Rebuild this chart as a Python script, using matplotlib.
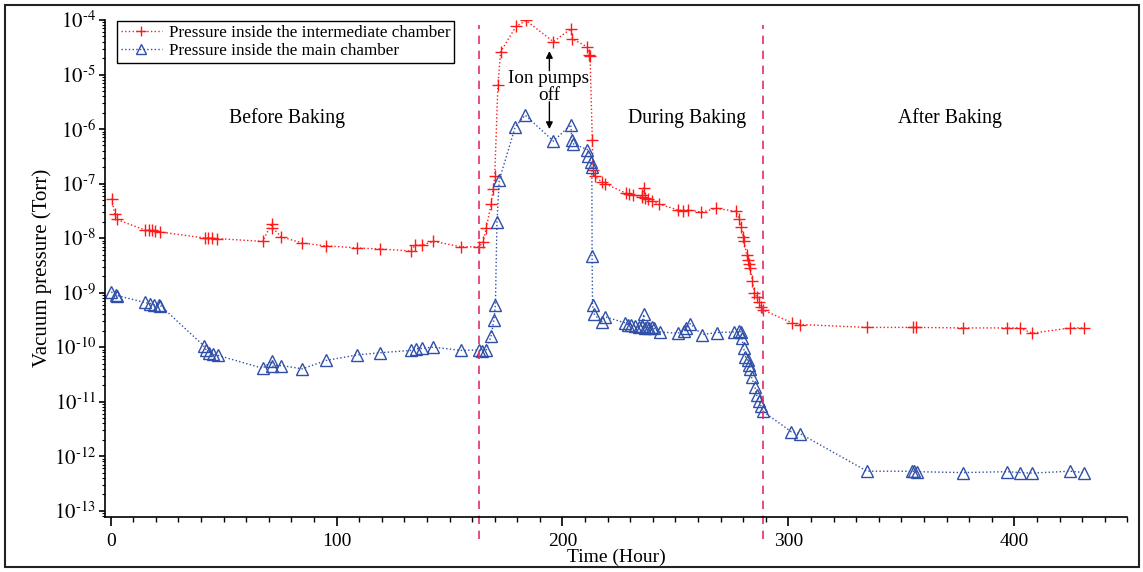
import matplotlib
matplotlib.use("Agg")
import matplotlib.pyplot as plt
from matplotlib.patches import Rectangle
from matplotlib.ticker import MultipleLocator, LogLocator, FixedLocator, NullFormatter
import numpy as np

plt.rcParams['font.family'] = ['Liberation Serif', 'DejaVu Serif']
plt.rcParams['mathtext.fontset'] = 'stix'

# ---------------- data ----------------
red_t = [0.4, 1.8, 2.6, 15.4, 16.9, 18.3, 19.8, 21.7, 41.8, 43.3, 44.8, 47.0,
         67.3, 71.2, 71.6, 75.6, 84.9, 95.4, 109.1, 119.4, 132.9, 134.8, 137.7,
         142.9, 155.2, 163.0, 164.9, 166.2, 168.4, 169.3, 170.0, 171.4, 172.6,
         179.4, 183.8, 196.0, 203.7, 204.4, 211.0, 211.9, 212.2, 213.2, 213.5,
         214.4, 217.3, 218.8, 228.3, 229.6, 231.3, 235.0, 235.4, 236.0, 236.5,
         238.0, 239.6, 242.7, 251.0, 253.5, 255.5, 261.4, 268.0, 276.8, 278.3,
         279.0, 280.0, 280.4, 281.5, 282.2, 282.7, 283.1, 284.1, 284.9, 286.0,
         287.0, 288.0, 288.8, 301.5, 305.1, 334.8, 355.1, 356.5, 377.1, 396.8,
         402.3, 408.0, 424.7, 431.0]
red_p = [5.3e-8, 2.8e-8, 2.2e-8, 1.4e-8, 1.4e-8, 1.4e-8, 1.35e-8, 1.3e-8, 1.0e-8,
         1.0e-8, 1.0e-8, 9.8e-9, 8.7e-9, 1.85e-8, 1.55e-8, 1.05e-8, 8.1e-9, 7.2e-9,
         6.6e-9, 6.3e-9, 5.8e-9, 7.4e-9, 7.4e-9, 8.7e-9, 6.9e-9, 6.9e-9, 8.4e-9,
         1.5e-8, 4.2e-8, 8.0e-8, 1.35e-7, 6.3e-6, 2.6e-5, 7.6e-5, 9.8e-5, 4.0e-5,
         6.9e-5, 4.5e-5, 3.2e-5, 2.3e-5, 2.2e-5, 6.3e-7, 1.8e-7, 1.35e-7, 1.08e-7,
         1.0e-7, 6.6e-8, 6.5e-8, 6.3e-8, 5.6e-8, 6.3e-8, 8.3e-8, 5.4e-8, 5.2e-8,
         4.8e-8, 4.2e-8, 3.3e-8, 3.2e-8, 3.3e-8, 3.0e-8, 3.5e-8, 3.1e-8, 2.2e-8,
         1.6e-8, 1.05e-8, 8.7e-9, 5.0e-9, 4.0e-9, 3.4e-9, 2.8e-9, 1.6e-9, 1.0e-9,
         8.3e-10, 6.8e-10, 5.5e-10, 4.8e-10, 2.8e-10, 2.6e-10, 2.3e-10, 2.3e-10,
         2.3e-10, 2.25e-10, 2.25e-10, 2.25e-10, 1.8e-10, 2.25e-10, 2.25e-10]

blue_t = [0.3, 2.2, 3.0, 15.1, 17.6, 19.1, 21.3, 22.0, 41.1, 42.3, 43.7, 45.5,
          47.3, 67.3, 71.2, 71.6, 75.6, 84.9, 95.4, 109.1, 119.4, 132.9, 135.0,
          137.7, 142.9, 155.2, 163.0, 164.5, 166.2, 168.4, 169.6, 170.3, 171.0,
          172.0, 179.1, 183.5, 196.0, 203.7, 204.1, 204.6, 211.0, 211.5, 212.5,
          213.0, 213.1, 213.3, 214.1, 217.3, 218.8, 227.6, 229.0, 230.5, 232.0,
          234.0, 235.0, 236.0, 236.5, 237.5, 238.5, 239.5, 240.5, 243.0, 251.0,
          253.7, 254.6, 256.6, 261.7, 268.3, 276.0, 278.0, 279.0, 279.3, 280.2,
          281.0, 282.0, 282.7, 283.0, 283.7, 285.2, 286.0, 287.0, 287.8, 288.8,
          301.3, 305.1, 334.8, 354.6, 355.7, 356.8, 377.1, 396.8, 402.3, 408.0,
          424.7, 431.0]
blue_p = [1.03e-9, 9.1e-10, 8.8e-10, 6.6e-10, 6.3e-10, 6.0e-10, 6.0e-10, 5.8e-10,
          1.07e-10, 8.9e-11, 7.7e-11, 7.4e-11, 7.1e-11, 4.1e-11, 5.5e-11, 4.5e-11,
          4.6e-11, 4.0e-11, 5.7e-11, 7.2e-11, 7.9e-11, 8.7e-11, 9.3e-11, 9.5e-11,
          1.0e-10, 8.7e-11, 8.9e-11, 8.5e-11, 8.7e-11, 1.6e-10, 3.1e-10, 5.9e-10,
          2.0e-8, 1.15e-7, 1.1e-6, 1.8e-6, 6.0e-7, 1.2e-6, 6.3e-7, 5.4e-7, 4.2e-7,
          3.2e-7, 2.5e-7, 2.0e-7, 4.7e-9, 5.9e-10, 4.0e-10, 2.9e-10, 3.6e-10,
          2.8e-10, 2.6e-10, 2.6e-10, 2.4e-10, 2.3e-10, 2.4e-10, 4.0e-10, 2.2e-10,
          2.3e-10, 2.2e-10, 2.3e-10, 2.2e-10, 1.9e-10, 1.8e-10, 2.0e-10, 2.2e-10,
          2.7e-10, 1.7e-10, 1.85e-10, 1.9e-10, 1.95e-10, 1.9e-10, 1.5e-10, 9.6e-11,
          6.6e-11, 5.7e-11, 4.8e-11, 4.0e-11, 2.8e-11, 1.85e-11, 1.3e-11, 1.05e-11,
          8.5e-12, 6.6e-12, 2.8e-12, 2.6e-12, 5.3e-13, 5.3e-13, 5.3e-13, 5.2e-13,
          5.0e-13, 5.2e-13, 5.0e-13, 4.9e-13, 5.3e-13, 5.0e-13]

phase_bounds = [163.0, 288.8]
phase_labels = ["Before Baking", "During Baking", "After Baking"]
phase_label_t = [78.0, 255.0, 371.5]
y_ticks_exp = [-4, -5, -6, -7, -8, -9, -10, -11, -12, -13]
x_tick_vals = [0, 100, 200, 300, 400]

RED = '#ff1a1a'
BLUE = '#2f4fa8'
DASH = '#e0306a'

# ---------------- figure ----------------
fig = plt.figure(figsize=(11.43, 5.72), dpi=100)
W, H = 1143, 572
ax = fig.add_axes([105 / W, 1 - 516.7 / H, (1127.3 - 105) / W, (516.7 - 20) / H])

ax.set_yscale('log')
ax.set_xlim(-2.5, 450)
ax.set_ylim(10 ** -13.11, 1e-4)

ax.plot(red_t, red_p, linestyle=':', color=RED, lw=1.0, marker='+',
        markersize=8, markeredgewidth=1.0,
        label='Pressure inside the intermediate chamber')
ax.plot(blue_t, blue_p, linestyle=':', color=BLUE, lw=1.0, marker='^',
        markersize=8, markerfacecolor='none', markeredgecolor=BLUE,
        markeredgewidth=1.0, label='Pressure inside the main chamber')

# phase separators
for xb in phase_bounds:
    ax.plot([xb, xb], [-0.045, 0.99], transform=ax.get_xaxis_transform(),
            color=DASH, lw=1.2, linestyle=(0, (5, 4)), clip_on=False)

# phase labels
for lab, tx in zip(phase_labels, phase_label_t):
    ax.text(tx, 10 ** -5.80, lab, ha='center', va='center', fontsize=14.2)

# ion pumps annotation
ax.text(194.0, 10 ** -5.22, "Ion pumps\noff", ha='center', va='center',
        fontsize=13.8, linespacing=1.0)
ax.annotate('', xy=(194.2, 10 ** -4.57), xytext=(194.2, 10 ** -4.93),
            arrowprops=dict(arrowstyle='-|>', color='black', lw=1.0,
                            mutation_scale=10, shrinkA=0, shrinkB=0))
ax.annotate('', xy=(194.2, 10 ** -6.0), xytext=(194.2, 10 ** -5.50),
            arrowprops=dict(arrowstyle='-|>', color='black', lw=1.0,
                            mutation_scale=10, shrinkA=0, shrinkB=0))

# axes styling
for s in ['top', 'right']:
    ax.spines[s].set_visible(False)
for s in ['left', 'bottom']:
    ax.spines[s].set_linewidth(1.2)

ax.yaxis.set_major_locator(FixedLocator([10.0 ** e for e in y_ticks_exp]))
ax.set_yticklabels([r'$10^{\text{-}%d}$' % (-e) for e in y_ticks_exp])
ax.yaxis.set_minor_locator(LogLocator(base=10, subs=np.arange(2, 10), numticks=50))
ax.yaxis.set_minor_formatter(NullFormatter())

ax.xaxis.set_major_locator(FixedLocator(x_tick_vals))
ax.set_xticklabels([str(v) for v in x_tick_vals])
ax.xaxis.set_minor_locator(MultipleLocator(10))

ax.tick_params(axis='both', which='major', direction='out', width=1.2)
ax.tick_params(axis='x', which='major', length=6.5, pad=5, labelsize=14)
ax.tick_params(axis='y', which='major', length=4.5, pad=2, labelsize=15)
ax.tick_params(axis='x', which='minor', length=3.5, width=1.0)
ax.tick_params(axis='y', which='minor', length=2.4, width=0.8)

ax.set_xlabel('Time (Hour)', fontsize=14, labelpad=-1)
ax.set_ylabel('Vacuum pressure (Torr)', fontsize=15, labelpad=1)

leg = ax.legend(loc='upper left', bbox_to_anchor=(116.5 / W, 1 - 20.5 / H),
                bbox_transform=fig.transFigure, frameon=True, fancybox=False,
                edgecolor='black', framealpha=1, fontsize=12.3, handlelength=2.4,
                borderpad=0.25, labelspacing=0.12, handletextpad=0.4,
                borderaxespad=0)
leg.get_frame().set_linewidth(1.0)
for h in leg.legend_handles:
    h.set_markersize(7)

# outer figure border
fig.patches.append(Rectangle((5 / W, 5 / H), (1139 - 5) / W, (567 - 5) / H,
                             transform=fig.transFigure, fill=False,
                             edgecolor='#222222', lw=1.5))

fig.savefig('out.png', dpi=100)
